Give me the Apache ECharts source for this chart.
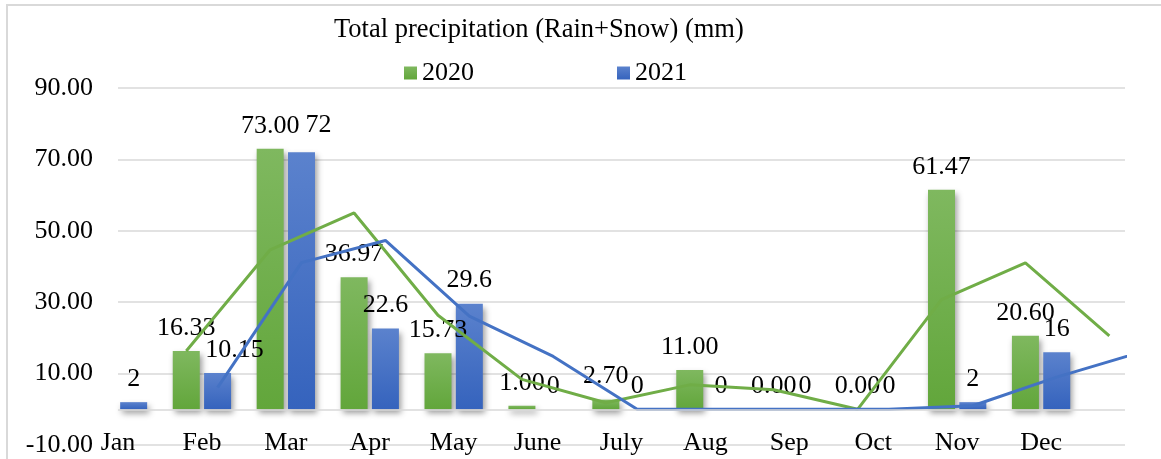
<!DOCTYPE html>
<html>
<head>
<meta charset="utf-8">
<script src="https://cdn.jsdelivr.net/npm/echarts@6/dist/echarts.min.js"></script>
<style>
html,body{margin:0;padding:0;background:#fff;}
#chart{width:1161px;height:459px;}
</style>
</head>
<body>
<div id="chart"></div>
<script>
// ---- data ----
const categories = ['Jan','Feb','Mar','Apr','May','June','July','Aug','Sep','Oct','Nov','Dec',''];
const precip2020 = [null, 16.33, 73.00, 36.97, 15.73, 1.00, 2.70, 11.00, 0.00, 0.00, 61.47, 20.60, null];
const precip2021 = [2, 10.15, 72, 22.6, 29.6, 0, 0, 0, 0, 0, 2, 16, null];
// 2-period moving-average trend lines as drawn in the reference
const trend2020 = [null, 16.33, 44.67, 54.99, 26.35, 8.37, 1.85, 6.85, 5.50, 0.00, 30.74, 41.04, 20.60];
const trend2021 = [null, 6.08, 41.08, 47.30, 26.10, 14.80, 0, 0, 0, 0, 1.00, 9.00, 16.00];
const yMin = -10, yMax = 90, yStep = 20;
const seriesNames = ['2020', '2021'];

// ---- styling ----
const FONT = '"Liberation Serif", "Times New Roman", serif';
const GREEN = '#70ad47', BLUE = '#4472c4';
const barW = 27, barGapPct = 16;
const grid = {left:118, right:36, top:88, bottom:14};
const bandPx = (1161 - grid.left - grid.right) / (categories.length - 1);
const shift = ((barW * (1 + barGapPct/100)) / 2) / bandPx; // trend point sits on its bar centre
const labelNudge2021 = {1:[17,0], 2:[17,-4]};

function grad(top, bottom){
  return new echarts.graphic.LinearGradient(0,0,0,1,[{offset:0,color:top},{offset:1,color:bottom}]);
}
const barShadow = {shadowColor:'rgba(0,0,0,0.4)', shadowBlur:6, shadowOffsetX:2, shadowOffsetY:4};

const chart = echarts.init(document.getElementById('chart'), null, {renderer:'canvas'});
chart.setOption({
  animation:false,
  backgroundColor:'#fff',
  textStyle:{fontFamily:FONT},
  graphic:[{type:'rect', shape:{x:7, y:5, width:1300, height:600}, style:{fill:'none', stroke:'#d9d9d9', lineWidth:2}, silent:true}],
  title:{
    text:'Total precipitation (Rain+Snow) (mm)',
    left:329, top:12,
    textStyle:{fontFamily:FONT, fontSize:26.5, fontWeight:'normal', color:'#000'}
  },
  legend:{
    data:seriesNames,
    left:399, top:55,
    itemWidth:13, itemHeight:13, itemGap:143,
    icon:'rect',
    textStyle:{fontFamily:FONT, fontSize:26, color:'#000'}
  },
  grid:Object.assign({containLabel:false, outerBoundsMode:'none'}, grid),
  xAxis:[{
    type:'category',
    data:categories,
    boundaryGap:false,
    axisLine:{show:false, onZero:false},
    axisTick:{show:false},
    splitLine:{show:false},
    axisLabel:{interval:0, margin:-2, verticalAlign:'middle', fontFamily:FONT, fontSize:26, color:'#000'}
  },{
    type:'value', min:0, max:categories.length-1, show:false
  }],
  yAxis:{
    type:'value', min:yMin, max:yMax, interval:yStep,
    axisLine:{show:false}, axisTick:{show:false},
    splitLine:{lineStyle:{color:'#d9d9d9', width:1.5}},
    axisLabel:{margin:25, fontFamily:FONT, fontSize:26, color:'#000', formatter:v=>v.toFixed(2)}
  },
  series:[
    {
      name:seriesNames[0], type:'bar', xAxisIndex:0,
      barWidth:barW, barGap:barGapPct+'%',
      data:precip2020,
      itemStyle:Object.assign({color:grad('#7fb85f','#62a63b')}, barShadow),
      label:{show:true, position:'top', distance:10, fontFamily:FONT, fontSize:26, color:'#000',
             formatter:p=>p.value==null?'':Number(p.value).toFixed(2)},
      markLine:{silent:true, symbol:['none','none'], label:{show:false},
                lineStyle:{color:'#d9d9d9', type:'solid', width:1.5}, data:[{yAxis:0}]}
    },
    {
      name:seriesNames[1], type:'bar', xAxisIndex:0,
      barWidth:barW, barGap:barGapPct+'%',
      data:precip2021.map((v,i)=> labelNudge2021[i] ? {value:v, label:{offset:labelNudge2021[i]}} : v),
      itemStyle:Object.assign({color:grad('#5b82cd','#3563bd')}, barShadow),
      label:{show:true, position:'top', distance:10, fontFamily:FONT, fontSize:26, color:'#000',
             formatter:p=>p.value==null?'':String(p.value)}
    },
    {
      name:'trend '+seriesNames[0], type:'line', xAxisIndex:1,
      data:trend2020.map((v,i)=>[i - shift, v]),
      showSymbol:false, symbol:'none', connectNulls:false, clip:true,
      lineStyle:{color:GREEN, width:3}, z:3
    },
    {
      name:'trend '+seriesNames[1], type:'line', xAxisIndex:1,
      data:trend2021.map((v,i)=>[i + shift, v]),
      showSymbol:false, symbol:'none', connectNulls:false, clip:true,
      lineStyle:{color:BLUE, width:3}, z:3
    }
  ]
});
</script>
</body>
</html>
